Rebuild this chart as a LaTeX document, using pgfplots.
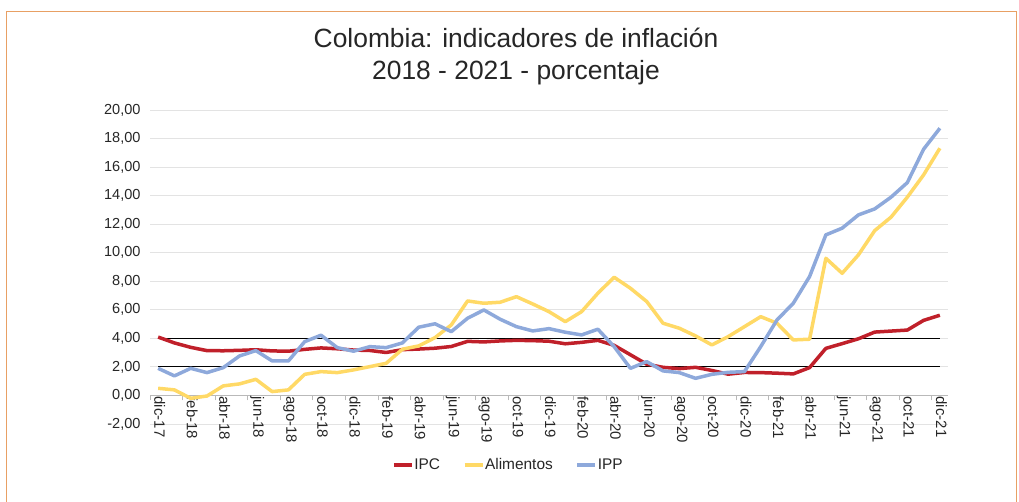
\documentclass[border=0pt]{standalone}
\usepackage{pgfplots}
\usepackage{pgfplotstable}
\pgfplotsset{compat=1.18}
\usepackage{fontspec}
\setmainfont{Liberation Sans}

\definecolor{ipc}{RGB}{192,32,42}
\definecolor{alim}{RGB}{255,217,102}
\definecolor{ipp}{RGB}{142,169,219}
\definecolor{marco}{RGB}{232,160,100}
\definecolor{texto}{RGB}{38,38,38}

% meses desde dic-17 (0) hasta dic-21 (48)
\pgfplotstableread{
idx ipc alim ipp
0 4.09 0.50 1.90
1 3.68 0.39 1.37
2 3.37 -0.20 1.90
3 3.14 -0.04 1.60
4 3.13 0.67 1.95
5 3.16 0.81 2.77
6 3.20 1.13 3.14
7 3.12 0.27 2.42
8 3.10 0.39 2.42
9 3.23 1.48 3.77
10 3.33 1.67 4.22
11 3.27 1.60 3.35
12 3.18 1.79 3.10
13 3.15 2.02 3.42
14 3.01 2.25 3.35
15 3.21 3.24 3.68
16 3.25 3.47 4.78
17 3.31 4.05 5.02
18 3.43 4.94 4.47
19 3.79 6.62 5.41
20 3.75 6.46 5.99
21 3.82 6.53 5.34
22 3.86 6.92 4.82
23 3.84 6.41 4.52
24 3.80 5.87 4.68
25 3.62 5.17 4.43
26 3.72 5.87 4.24
27 3.86 7.16 4.64
28 3.51 8.28 3.42
29 2.85 7.51 1.90
30 2.19 6.58 2.37
31 1.97 5.06 1.72
32 1.88 4.71 1.60
33 1.97 4.17 1.20
34 1.75 3.54 1.48
35 1.49 4.12 1.62
36 1.61 4.82 1.67
37 1.60 5.52 3.42
38 1.56 5.06 5.29
39 1.51 3.89 6.46
40 1.95 3.94 8.33
41 3.30 9.61 11.25
42 3.63 8.56 11.72
43 3.97 9.85 12.65
44 4.44 11.55 13.07
45 4.51 12.49 13.89
46 4.58 13.89 14.91
47 5.26 15.45 17.25
48 5.62 17.32 18.72
}\datos

\begin{document}
\begin{tikzpicture}
\begin{axis}[
    scale only axis, width=798bp, height=314bp,
    xmin=-0.5, xmax=48.5, ymin=-2, ymax=20,
    axis x line=middle, axis y line=left,
    x axis line style={-, draw=gray!55, line width=0.8bp},
    y axis line style={draw=none},
    xtick={0,2,...,48},
    xticklabels={dic-17,feb-18,abr-18,jun-18,ago-18,oct-18,dic-18,feb-19,abr-19,jun-19,ago-19,oct-19,dic-19,feb-20,abr-20,jun-20,ago-20,oct-20,dic-20,feb-21,abr-21,jun-21,ago-21,oct-21,dic-21},
    minor xtick={-0.5,1.5,...,47.5},
    xtick align=outside,
    major x tick style={draw=none},
    minor x tick style={draw=gray!55, line width=0.8bp},
    minor tick length=5bp,
    major tick length=0bp,
    xticklabel style={rotate=-90, anchor=west, inner sep=1bp, yshift=1.5bp, text=texto, font=\fontsize{15}{18}\selectfont},
    ytick={-2,0,...,20},
    major y tick style={draw=none},
    ymajorgrids, grid style={draw=gray!22, line width=0.9bp},
    yticklabel style={text=texto, font=\fontsize{14.6}{18}\selectfont, xshift=-6bp},
    /pgf/number format/.cd, fixed, fixed zerofill, precision=2, use comma, assume math mode=true,
    /pgfplots/.cd,
    legend columns=3,
    legend style={at={(0.448,-0.131)}, anchor=center, draw=none, fill=none,
        font=\fontsize{15.5}{18}\selectfont, text=texto,
        nodes={inner sep=0.5bp},
        /tikz/every odd column/.append style={column sep=0bp},
        /tikz/every even column/.append style={column sep=22bp}},
    legend image code/.code={\draw[#1, line width=4bp] (0bp,0bp) -- (18bp,0bp);},
]
\addplot[black, line width=1bp, forget plot] coordinates {(0,4) (48,4)};
\addplot[black, line width=1bp, forget plot] coordinates {(0,2) (48,2)};
\addplot[ipc, line width=3.5bp, line join=round] table[x=idx, y=ipc] {\datos};
\addplot[alim, line width=3.5bp, line join=round] table[x=idx, y=alim] {\datos};
\addplot[ipp, line width=3.5bp, line join=round] table[x=idx, y=ipp] {\datos};
\legend{IPC, Alimentos, IPP}
\coordinate (O) at (rel axis cs:0,0);
\end{axis}
\begin{scope}[shift={(O)}]
\begin{scope}[x=1bp, y=1bp, shift={(-150bp,-78bp)}]
\path[use as bounding box] (0,0) rectangle (1019,502);
\draw[marco, line width=1bp] (7,0) -- (7,490) -- (1016,490) -- (1016,0);
\node[anchor=base, text=texto, font=\fontsize{26.5}{32}\selectfont] at (516,454) {Colombia: indicadores de inflación};
\node[anchor=base, text=texto, font=\fontsize{26.5}{32}\selectfont] at (516,422) {2018 - 2021 - porcentaje};
\end{scope}
\end{scope}
\end{tikzpicture}
\end{document}
